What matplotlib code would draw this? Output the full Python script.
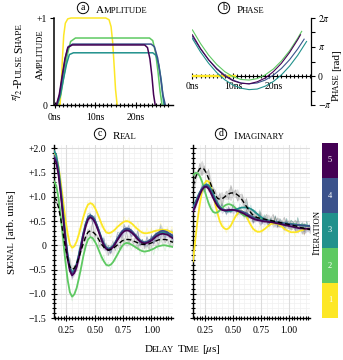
import numpy as np
import matplotlib
matplotlib.use('Agg')
import matplotlib.pyplot as plt
from matplotlib.colors import ListedColormap
from matplotlib.ticker import MultipleLocator, FixedLocator
from matplotlib.transforms import IdentityTransform
from matplotlib.font_manager import findfont, FontProperties
from matplotlib.ft2font import FT2Font

plt.rcParams['font.family'] = ['Liberation Serif', 'DejaVu Serif']
plt.rcParams['mathtext.fontset'] = 'stix'

# ---- data ----
iterations = [1, 2, 3, 4, 5]
iter_colors = ['#fde725', '#5ec962', '#21918c', '#3b528b', '#440154']

# pulse amplitude knots (ns, rel. amplitude) for each iteration
pulse_t = [
    [0, 1.3, 1.6, 1.9, 2.2, 2.6, 3.2, 4.0, 12.6, 13.4, 13.9, 14.3, 14.7, 15.0, 15.4],
    [0, 0.7, 1.5, 2.3, 3.1, 3.9, 5.1, 23.4, 24.2, 24.9, 25.5, 26.0, 26.5],
    [0, 0.5, 1.3, 2.1, 2.9, 3.6, 4.6, 24.2, 25.0, 25.7, 26.3, 26.7, 27.0],
    [0, 0.5, 1.2, 1.9, 2.6, 3.3, 4.4, 23.8, 24.6, 25.4, 26.1, 26.7, 27.3],
    [0, 0.4, 1.1, 1.8, 2.5, 3.2, 4.3, 22.2, 22.9, 23.5, 24.0, 24.4, 24.8],
]
pulse_amp = [
    [0, 0, .25, .55, .80, .94, .99, 1, 1, .98, .90, .72, .42, .18, 0],
    [0, 0, .12, .35, .58, .73, .77, .77, .74, .60, .38, .16, 0],
    [0, 0, .10, .29, .47, .58, .60, .60, .57, .46, .28, .10, 0],
    [0, 0, .12, .33, .54, .67, .70, .70, .67, .54, .33, .12, 0],
    [0, 0, .12, .33, .53, .66, .69, .69, .66, .53, .33, .12, 0],
]

# phase (in units of pi)
phase_t = [
    [0, 10.5],
    [0, 2, 4, 6, 8, 10, 12, 14, 16, 18, 20, 22, 24, 26, 27],
    [0, 2, 4, 6, 8, 10, 12, 14, 16, 18, 20, 22, 24, 26, 28.2],
    [0, 2, 4, 6, 8, 10, 12, 14, 16, 18, 20, 22, 24, 26, 27.6],
    [0, 2, 4, 6, 8, 10, 12, 14, 16, 18, 20, 22, 24, 26, 26.7],
]
phase_pi = [
    [0, 0],
    [1.59, 1.12, 0.72, 0.40, 0.15, -0.02, -0.12, -0.14, -0.09, 0.04, 0.24, 0.52, 0.87, 1.30, 1.54],
    [1.29, 0.83, 0.44, 0.12, -0.13, -0.31, -0.42, -0.47, -0.45, -0.35, -0.19, 0.04, 0.34, 0.71, 1.19],
    [1.36, 0.93, 0.56, 0.26, 0.03, -0.14, -0.24, -0.27, -0.24, -0.14, 0.03, 0.26, 0.56, 0.93, 1.27],
    [1.42, 0.95, 0.56, 0.24, 0.00, -0.16, -0.25, -0.27, -0.20, -0.07, 0.15, 0.44, 0.81, 1.25, 1.42],
]

# delay axis (us), 0.14 .. 1.22
delay = np.linspace(0.14, 1.22, 55)

re_1 = [1.90, 1.83, 1.62, 1.30, 0.93, 0.55, 0.24, 0.02, -0.05, -0.02, 0.08, 0.23, 0.41, 0.59, 0.74, 0.84,
        0.87, 0.85, 0.78, 0.68, 0.56, 0.44, 0.34, 0.27, 0.25, 0.26, 0.29, 0.33, 0.38, 0.42, 0.46, 0.49,
        0.50, 0.49, 0.46, 0.42, 0.37, 0.33, 0.29, 0.26, 0.25, 0.25, 0.26, 0.27, 0.29, 0.30, 0.31, 0.32,
        0.32, 0.32, 0.31, 0.29, 0.27, 0.25, 0.23]
re_2 = [1.32, 1.23, 0.97, 0.58, 0.13, -0.32, -0.71, -0.97, -1.06, -1.01, -0.88, -0.68, -0.45, -0.21, -0.01, 0.12,
        0.17, 0.15, 0.08, -0.01, -0.13, -0.24, -0.33, -0.40, -0.42, -0.40, -0.35, -0.27, -0.19, -0.10, -0.02, 0.03,
        0.05, 0.04, 0.02, -0.01, -0.04, -0.07, -0.10, -0.12, -0.13, -0.12, -0.11, -0.09, -0.07, -0.04, -0.02, -0.01,
        0.00, 0.00, -0.01, -0.02, -0.03, -0.04, -0.05]
re_3 = [1.95, 1.86, 1.59, 1.18, 0.70, 0.22, -0.19, -0.46, -0.55, -0.51, -0.38, -0.19, 0.04, 0.26, 0.45, 0.58,
        0.62, 0.59, 0.52, 0.41, 0.28, 0.14, 0.03, -0.04, -0.07, -0.05, -0.01, 0.06, 0.14, 0.21, 0.28, 0.32,
        0.34, 0.33, 0.30, 0.25, 0.20, 0.15, 0.10, 0.07, 0.06, 0.07, 0.09, 0.12, 0.17, 0.21, 0.24, 0.26,
        0.27, 0.26, 0.25, 0.22, 0.19, 0.15, 0.12]
re_4 = [1.85, 1.76, 1.50, 1.10, 0.64, 0.17, -0.23, -0.49, -0.58, -0.53, -0.40, -0.21, 0.02, 0.25, 0.44, 0.57,
        0.62, 0.59, 0.52, 0.40, 0.27, 0.14, 0.02, -0.05, -0.08, -0.06, -0.02, 0.05, 0.14, 0.22, 0.29, 0.33,
        0.35, 0.34, 0.31, 0.26, 0.21, 0.15, 0.10, 0.07, 0.06, 0.07, 0.10, 0.13, 0.18, 0.23, 0.26, 0.29,
        0.30, 0.29, 0.27, 0.24, 0.21, 0.18, 0.15]
re_5 = [1.80, 1.71, 1.45, 1.05, 0.59, 0.13, -0.27, -0.53, -0.62, -0.57, -0.44, -0.25, -0.02, 0.21, 0.40, 0.53,
        0.58, 0.55, 0.48, 0.37, 0.24, 0.11, 0.00, -0.07, -0.10, -0.08, -0.04, 0.03, 0.11, 0.18, 0.25, 0.29,
        0.31, 0.30, 0.27, 0.23, 0.18, 0.12, 0.08, 0.05, 0.04, 0.05, 0.07, 0.10, 0.14, 0.18, 0.21, 0.23,
        0.24, 0.23, 0.22, 0.19, 0.16, 0.13, 0.10]
re_target = [1.00, 0.94, 0.78, 0.54, 0.25, -0.04, -0.28, -0.44, -0.50, -0.47, -0.38, -0.25, -0.10, 0.05, 0.18, 0.27,
             0.30, 0.28, 0.24, 0.18, 0.10, 0.02, -0.04, -0.08, -0.10, -0.09, -0.07, -0.03, 0.01, 0.05, 0.09, 0.11,
             0.12, 0.12, 0.11, 0.09, 0.07, 0.05, 0.03, 0.02, 0.02, 0.02, 0.03, 0.05, 0.07, 0.09, 0.11, 0.12,
             0.12, 0.12, 0.11, 0.09, 0.07, 0.06, 0.04]

im_1 = [-0.33, 0.10, 0.50, 0.84, 1.10, 1.26, 1.33, 1.32, 1.22, 1.05, 0.85, 0.66, 0.50, 0.40, 0.35, 0.33, 0.35, 0.41, 0.50,
        0.59, 0.66, 0.70, 0.70, 0.66, 0.59, 0.50, 0.41, 0.34, 0.30, 0.28, 0.28, 0.30, 0.33, 0.37, 0.41, 0.44, 0.45,
        0.45, 0.44, 0.41, 0.38, 0.34, 0.31, 0.29, 0.27, 0.27, 0.27, 0.28, 0.30, 0.31, 0.33, 0.34, 0.34, 0.34, 0.33]
im_2 = [1.45, 1.49, 1.49, 1.43, 1.32, 1.17, 1.01, 0.87, 0.76, 0.69, 0.67, 0.68, 0.72, 0.77, 0.81, 0.84, 0.85, 0.84, 0.81,
        0.77, 0.73, 0.68, 0.64, 0.61, 0.60, 0.59, 0.59, 0.58, 0.57, 0.56, 0.55, 0.54, 0.53, 0.52, 0.51, 0.50, 0.49,
        0.48, 0.47, 0.46, 0.46, 0.45, 0.45, 0.44, 0.44, 0.43, 0.43, 0.42, 0.42, 0.41, 0.41, 0.40, 0.40, 0.40, 0.40]
im_3 = [0.78, 0.88, 0.99, 1.09, 1.17, 1.23, 1.26, 1.24, 1.17, 1.07, 0.96, 0.87, 0.80, 0.75, 0.72, 0.70, 0.70, 0.71, 0.72,
        0.74, 0.75, 0.77, 0.78, 0.78, 0.78, 0.77, 0.75, 0.72, 0.68, 0.64, 0.60, 0.57, 0.54, 0.52, 0.51, 0.50, 0.49,
        0.48, 0.47, 0.46, 0.46, 0.45, 0.45, 0.44, 0.44, 0.43, 0.43, 0.42, 0.42, 0.41, 0.41, 0.41, 0.40, 0.40, 0.40]
im_4 = [0.75, 0.85, 0.97, 1.08, 1.17, 1.22, 1.24, 1.20, 1.12, 1.02, 0.92, 0.84, 0.78, 0.75, 0.73, 0.72, 0.72, 0.73, 0.73,
        0.73, 0.72, 0.71, 0.70, 0.68, 0.66, 0.63, 0.60, 0.58, 0.56, 0.54, 0.53, 0.52, 0.51, 0.50, 0.50, 0.49, 0.49,
        0.48, 0.47, 0.47, 0.46, 0.45, 0.45, 0.44, 0.43, 0.43, 0.42, 0.42, 0.41, 0.41, 0.41, 0.40, 0.40, 0.40, 0.40]
im_5 = [0.70, 0.80, 0.92, 1.04, 1.14, 1.20, 1.21, 1.17, 1.08, 0.98, 0.89, 0.81, 0.76, 0.73, 0.72, 0.72, 0.73, 0.73, 0.73,
        0.72, 0.71, 0.69, 0.67, 0.65, 0.62, 0.60, 0.57, 0.55, 0.53, 0.52, 0.51, 0.50, 0.49, 0.49, 0.48, 0.48, 0.47,
        0.46, 0.45, 0.44, 0.43, 0.42, 0.41, 0.40, 0.39, 0.38, 0.37, 0.36, 0.35, 0.35, 0.34, 0.34, 0.34, 0.34, 0.34]
im_target = [1.22, 1.38, 1.50, 1.58, 1.60, 1.57, 1.49, 1.38, 1.26, 1.14, 1.04, 0.97, 0.95, 0.96, 0.99, 1.03, 1.06, 1.08, 1.08,
             1.07, 1.04, 1.00, 0.94, 0.87, 0.80, 0.73, 0.67, 0.62, 0.59, 0.57, 0.56, 0.55, 0.54, 0.53, 0.52, 0.51, 0.50,
             0.49, 0.48, 0.47, 0.46, 0.45, 0.44, 0.43, 0.42, 0.41, 0.40, 0.39, 0.37, 0.36, 0.35, 0.34, 0.33, 0.32, 0.31]

# shot-noise residuals of the measured traces
resid_a = [0.12, -0.08, 0.15, -0.05, 0.09, -0.14, 0.04, 0.18, -0.10, 0.06, -0.16,
           0.11, -0.03, 0.14, -0.09, 0.07, -0.12, 0.20, -0.06, 0.03, -0.15, 0.10,
           -0.04, 0.13, -0.11, 0.05, 0.16, -0.08, 0.02, -0.13, 0.09, -0.05, 0.17,
           -0.10, 0.04, -0.07, 0.12, -0.14, 0.06, 0.10, -0.09, 0.03, -0.12, 0.15,
           -0.04, 0.08, -0.11, 0.05, 0.13, -0.07, 0.02, -0.10, 0.09, -0.06, 0.11]
resid_b = [-0.09, 0.14, -0.04, 0.11, -0.16, 0.07, -0.02, 0.19, -0.12, 0.05, 0.10,
           -0.07, 0.13, -0.15, 0.03, 0.09, -0.11, 0.16, -0.05, 0.08, -0.13, 0.04,
           0.12, -0.08, 0.17, -0.03, 0.06, -0.14, 0.10, -0.06, 0.15, -0.09, 0.02,
           0.11, -0.12, 0.05, 0.14, -0.07, 0.09, -0.10, 0.03, 0.13, -0.05, 0.08,
           -0.11, 0.06, 0.12, -0.08, 0.04, -0.13, 0.10, -0.03, 0.07, -0.09, 0.05]

re_iter = [re_1, re_2, re_3, re_4, re_5]
im_iter = [im_1, im_2, im_3, im_4, im_5]

# ---- figure ----
W, H = 343, 360
fig = plt.figure(figsize=(W / 100, H / 100), dpi=100)
renderer = fig.canvas.get_renderer()
serif = FT2Font(findfont(FontProperties(family='Liberation Serif')))


def px_axes(l, t, r, b):
    return fig.add_axes([l / W, 1 - b / H, (r - l) / W, (b - t) / H])


def text_width(s, size):
    if '$' in s:
        t = fig.text(0, 0, s, fontsize=size)
        w = t.get_window_extent(renderer).width + 0.8
        t.remove()
        return w
    serif.set_size(size, 100)
    w = sum(serif.load_char(ord(ch)).linearHoriAdvance for ch in s) / 65536
    if s != ' ':
        w -= 0.4
    if s.endswith('P'):
        w -= 0.9  # the open bowl of P leaves a visible hole otherwise
    return w


def sc_text(x, y, parts, size=8.0, rot=0, ha='center'):
    # fake small caps: capitals full size, lower-case letters as smaller capitals
    runs = []
    for s, sc in parts:
        if not sc:
            runs.append((s, size))
            continue
        for ch in s:
            if ch == ' ':
                runs.append((' ', size))
                continue
            sz = size * 0.78 if ch.islower() else size
            if runs and runs[-1][1] == sz and runs[-1][0] != ' ':
                runs[-1] = (runs[-1][0] + ch.upper(), sz)
            else:
                runs.append((ch.upper(), sz))
    widths = [text_width(s, sz) for s, sz in runs]
    total = sum(widths)
    th = np.deg2rad(rot)
    dx, dy = np.cos(th), np.sin(th)
    frac = 0.5 if ha == 'center' else 0.0
    cx, cy = x - frac * total * dx, (H - y) - frac * total * dy
    for (s, sz), w in zip(runs, widths):
        if s != ' ':
            fig.text(cx, cy, s, fontsize=sz, rotation=rot, rotation_mode='anchor',
                     ha='left', va='baseline', transform=IdentityTransform())
        cx += w * dx
        cy += w * dy


def panel_title(xc, yc, letter, name):
    fig.text(xc / W, 1 - yc / H, letter, fontsize=7, ha='center', va='center',
             bbox=dict(boxstyle='circle,pad=0.12', fc='none', ec='black', lw=0.7))
    sc_text(xc + 13, yc + 5, [(name, True)], ha='left')


tick_kw = dict(labelsize=7, width=0.8, color='black')

# (a) amplitude
ax_a = px_axes(54, 18, 173, 105)
for tt, aa, c in zip(pulse_t, pulse_amp, iter_colors):
    ax_a.plot(tt, aa, color=c, lw=1.1, clip_on=False)
ax_a.set_xlim(-0.2, 29.2)
ax_a.set_ylim(0, 1)
for s in ['top', 'right']:
    ax_a.spines[s].set_visible(False)
ax_a.spines['left'].set_linewidth(1.1)
ax_a.spines['bottom'].set_linewidth(1.0)
ax_a.set_yticks([0, 1])
ax_a.set_yticklabels(['0', '+1'])
ax_a.set_xticks([0, 10, 20])
ax_a.set_xticklabels(['0ns', '10ns', '20ns'])
ax_a.xaxis.set_minor_locator(FixedLocator(np.arange(0, 29, 1)))
ax_a.tick_params(axis='x', which='major', direction='inout', length=5, pad=3, **tick_kw)
ax_a.tick_params(axis='x', which='minor', direction='inout', length=3, width=0.8)
ax_a.tick_params(axis='y', which='major', direction='out', length=3, pad=2, **tick_kw)

# (b) phase
ax_b = px_axes(192, 18, 311, 105)
for tt, pp, c in zip(phase_t, phase_pi, iter_colors):
    flat = len(tt) == 2
    ax_b.plot(tt, np.array(pp) * np.pi, color=c, lw=1.7 if flat else 0.8, zorder=2.6 if flat else 3)
ax_b.set_xlim(-0.1, 29.3)
ax_b.set_ylim(-np.pi, 2 * np.pi)
ax_b.spines['left'].set_visible(False)
ax_b.spines['top'].set_visible(False)
ax_b.spines['bottom'].set_position(('data', 0))
ax_b.spines['bottom'].set_linewidth(0.8)
ax_b.spines['right'].set_linewidth(0.9)
ax_b.yaxis.tick_right()
ax_b.set_yticks([-np.pi, 0, np.pi, 2 * np.pi])
ax_b.set_yticklabels([r'$-\pi$', '0', r'$\pi$', r'$2\pi$'])
ax_b.yaxis.set_minor_locator(FixedLocator([-np.pi / 2, np.pi / 2, 1.5 * np.pi]))
ax_b.tick_params(axis='y', which='both', direction='out', length=3, pad=2, **tick_kw)
ax_b.set_xticks([0, 10, 20])
ax_b.set_xticklabels(['0ns', '10ns', '20ns'])
ax_b.xaxis.set_minor_locator(FixedLocator(np.arange(0, 30, 1)))
ax_b.tick_params(axis='x', which='major', direction='inout', length=5, pad=2, **tick_kw)
ax_b.tick_params(axis='x', which='minor', direction='inout', length=3, width=0.8)


def signal_axes(ax, curves, target, resid, show_labels, grey_alpha):
    target = np.array(target)
    resid = np.array(resid)
    ax.fill_between(delay, target - np.abs(resid), target + np.abs(resid),
                    color='#9a9a9a', alpha=grey_alpha, lw=0, zorder=1)
    ax.plot(delay, target + resid, color='#8c8c8c', lw=0.5, alpha=0.5, zorder=1)
    ax.fill_between(delay, np.array(curves[4]) - 0.6 * np.abs(resid[::-1]),
                    np.array(curves[4]) + 0.6 * np.abs(resid[::-1]),
                    color='#8d8fc0', alpha=0.3, lw=0, zorder=1)
    for vals, c in zip(curves, iter_colors):
        ax.plot(delay, np.array(vals) + 0.8 * resid[::-1], color=c, lw=0.5, alpha=0.22, zorder=1)
    for vals, c in zip(curves, iter_colors):
        ax.plot(delay, vals, color=c, lw=1.3, zorder=3)
    ax.plot(delay, target, color='black', lw=1.0, ls=(0, (3.5, 2)), zorder=4)
    ax.set_xlim(0.14, 1.19)
    ax.set_ylim(-1.5, 2.07)
    for s in ['top', 'right']:
        ax.spines[s].set_visible(False)
    ax.spines['left'].set_linewidth(1.0)
    ax.spines['bottom'].set_linewidth(1.0)
    ax.set_xticks([0.25, 0.5, 0.75, 1.0])
    ax.set_xticklabels(['0.25', '0.50', '0.75', '1.00'])
    ax.xaxis.set_minor_locator(MultipleLocator(0.025))
    ax.set_yticks([-1.5, -1.0, -0.5, 0, 0.5, 1.0, 1.5, 2.0])
    ax.yaxis.set_minor_locator(MultipleLocator(0.1))
    if show_labels:
        ax.set_yticklabels(['\u22121.5', '\u22121.0', '\u22120.5', '0', '+0.5', '+1.0', '+1.5', '+2.0'])
    else:
        ax.set_yticklabels([])
    ax.tick_params(which='major', direction='inout', length=5, pad=3, **tick_kw)
    ax.tick_params(which='minor', direction='inout', length=2.5, width=0.8)
    ax.grid(which='major', color='#dcdcdc', lw=0.8, zorder=0)
    for v in np.arange(0.15, 1.19, 0.05):
        ax.axvline(v, color='#f0f0f0', lw=0.5, zorder=0)
    for v in np.arange(-1.4, 2.05, 0.1):
        ax.axhline(v, color='#f0f0f0', lw=0.5, zorder=0)
    ax.set_axisbelow(True)


ax_c = px_axes(54, 145, 173, 318)
signal_axes(ax_c, re_iter, re_target, resid_a, True, 0.18)
ax_d = px_axes(193, 145, 310, 318)
signal_axes(ax_d, im_iter, im_target, resid_b, False, 0.32)

# colour bar for the iterations
cax = px_axes(322, 143, 338, 318)
cax.imshow(np.array(iterations)[:, None], cmap=ListedColormap(iter_colors), origin='lower',
           aspect='auto', extent=(0, 1, 0.5, 5.5))
for i in iterations:
    cax.text(0.5, i, str(i), color='white', fontsize=6, ha='center', va='center')
cax.set_xticks([])
cax.set_yticks([])
for s in cax.spines.values():
    s.set_visible(False)

# titles and labels
panel_title(83, 8, 'a', 'Amplitude')
panel_title(224, 8, 'b', 'Phase')
panel_title(100, 134, 'c', 'Real')
panel_title(221, 134, 'd', 'Imaginary')

sc_text(43, 55, [('Amplitude', True)], rot=90)
sc_text(22, 62, [(r'$^{\pi}\!/_{2}$', False), ('-', False), ('Pulse Shape', True)], size=8.5, rot=90)
sc_text(339, 75, [('Phase', True), (' ', False), ('[rad]', False)], rot=90)
sc_text(14, 232, [('Signal', True), (' ', False), ('[arb. units]', False)], rot=90)
sc_text(320, 232, [('Iteration', True)], rot=90)
sc_text(183, 352, [('Delay Time', True), (' ', False), (r'[$\mu$s]', False)])

fig.savefig('out.png', dpi=100)
